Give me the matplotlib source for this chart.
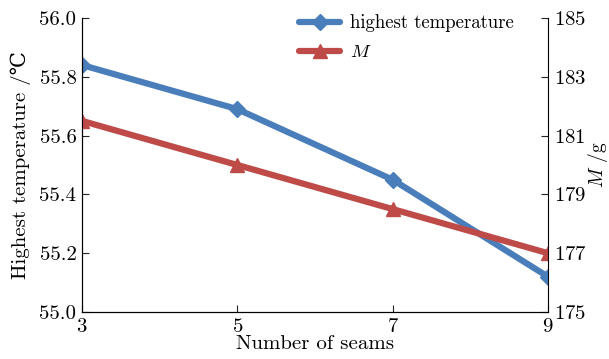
import matplotlib
matplotlib.use('Agg')
import matplotlib.pyplot as plt

# ----Data
seams = [3, 5, 7, 9]
highest_temp = [55.84, 55.69, 55.45, 55.12]
mass_m = [181.5, 180.0, 178.5, 177.0]

plt.rcParams['font.family'] = ['cmr10', 'DejaVu Serif']
plt.rcParams['mathtext.fontset'] = 'cm'
plt.rcParams['axes.formatter.use_mathtext'] = True

blue = '#4a7ebb'
red = '#be4b48'

fig = plt.figure(figsize=(6.09, 3.59), dpi=100)
ax1 = fig.add_axes([0.1346, 0.1309, 0.7652, 0.819])
ax2 = ax1.twinx()

l1, = ax1.plot(seams, highest_temp, color=blue, lw=4.5, marker='D',
               markersize=8, solid_capstyle='round',
               label='highest temperature')
l2, = ax2.plot(seams, mass_m, color=red, lw=4.5, marker='^',
               markersize=10, solid_capstyle='round', label='$M$')

ax1.set_xlim(3, 9)
ax1.set_ylim(55.0, 56.0)
ax2.set_ylim(175, 185)
ax1.set_xticks([3, 5, 7, 9])
ax1.set_yticks([55.0, 55.2, 55.4, 55.6, 55.8, 56.0])
ax1.set_yticklabels(['55.0', '55.2', '55.4', '55.6', '55.8', '56.0'])
ax2.set_yticks([175, 177, 179, 181, 183, 185])

for ax in (ax1, ax2):
    ax.spines['top'].set_visible(False)
    ax.tick_params(direction='in', labelsize=15, length=5, color='#222222',
                   pad=4)
ax1.spines['right'].set_visible(False)

ax1.set_xlabel('Number of seams', fontsize=15, labelpad=0)
ax1.set_ylabel('Highest temperature /\u2103', fontsize=15, labelpad=6)
ax2.set_ylabel('$M$ /g', fontsize=14, labelpad=0)

ax1.legend(handles=[l1, l2], loc='upper left', bbox_to_anchor=(0.43, 1.07),
           frameon=False, fontsize=13.5, handlelength=2.2, labelspacing=0.6,
           handletextpad=0.5)

fig.savefig('out.png', dpi=100)
